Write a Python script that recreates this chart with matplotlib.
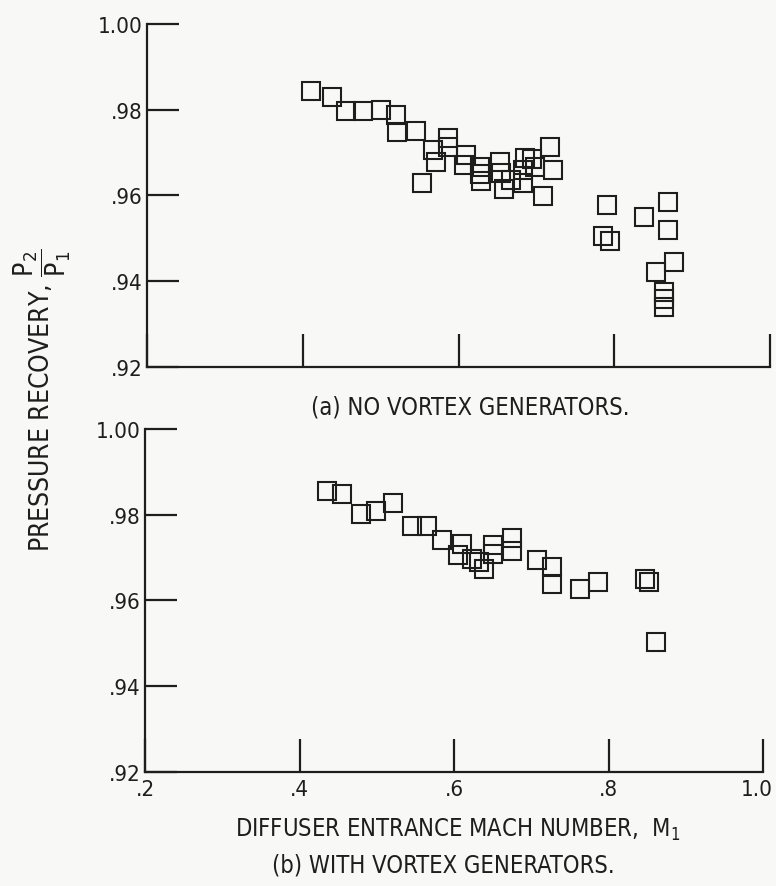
import matplotlib
matplotlib.use("Agg")
import matplotlib.pyplot as plt
from matplotlib.transforms import ScaledTranslation

plt.rcParams['font.family'] = ['DejaVu Sans']
plt.rcParams['font.stretch'] = 'condensed'
plt.rcParams['mathtext.fontset'] = 'dejavusans'

# (a) no vortex generators: Mach number, pressure recovery
mach_a = [0.411, 0.437, 0.456, 0.478, 0.501, 0.520, 0.521, 0.545, 0.553, 0.567,
          0.571, 0.586, 0.586, 0.607, 0.610, 0.627, 0.627, 0.629, 0.653, 0.655,
          0.659, 0.668, 0.683, 0.685, 0.683, 0.695, 0.698, 0.717, 0.721, 0.708,
          0.791, 0.785, 0.794, 0.838, 0.869, 0.869, 0.877, 0.853, 0.864, 0.864,
          0.864]
rec_a = [0.9844, 0.9830, 0.9798, 0.9798, 0.9800, 0.9788, 0.9747, 0.9751, 0.9628, 0.9707,
         0.9679, 0.9733, 0.9712, 0.9672, 0.9695, 0.9667, 0.9649, 0.9633, 0.9679, 0.9653,
         0.9614, 0.9637, 0.9660, 0.9688, 0.9630, 0.9684, 0.9667, 0.9712, 0.9660, 0.9598,
         0.9577, 0.9505, 0.9493, 0.9549, 0.9586, 0.9519, 0.9444, 0.9421, 0.9374, 0.9358,
         0.9340]

# (b) with vortex generators
mach_b = [0.435, 0.455, 0.479, 0.499, 0.521, 0.545, 0.565, 0.584, 0.611, 0.605,
          0.623, 0.633, 0.639, 0.650, 0.650, 0.675, 0.675, 0.707, 0.727, 0.727,
          0.763, 0.786, 0.847, 0.853, 0.862]
rec_b = [0.9856, 0.9849, 0.9802, 0.9809, 0.9828, 0.9774, 0.9774, 0.9741, 0.9732, 0.9706,
         0.9696, 0.9689, 0.9673, 0.9729, 0.9708, 0.9746, 0.9715, 0.9694, 0.9678, 0.9638,
         0.9626, 0.9642, 0.9649, 0.9642, 0.9504]

x_ticks = [0.2, 0.4, 0.6, 0.8, 1.0]
x_labels = ['.2', '.4', '.6', '.8', '1.0']
y_ticks = [0.92, 0.94, 0.96, 0.98, 1.00]
y_labels = ['.92', '.94', '.96', '.98', '1.00']

ink = '#1e1e1e'
W, H = 776, 887
fig = plt.figure(figsize=(W / 100, H / 100), dpi=100)
fig.patch.set_facecolor('#f8f8f6')

ax1 = fig.add_axes([147 / W, 1 - 368 / H, (770 - 147) / W, (368 - 25) / H])
ax2 = fig.add_axes([145 / W, 1 - 773 / H, (763 - 145) / W, (773 - 430) / H])

for ax, mx, rv in [(ax1, mach_a, rec_a), (ax2, mach_b, rec_b)]:
    ax.set_facecolor('none')
    ax.plot(mx, rv, linestyle='none', marker='s', markersize=12.5,
            markerfacecolor='none', markeredgecolor=ink, markeredgewidth=1.5,
            clip_on=False)
    ax.set_xlim(0.2, 1.0)
    ax.set_ylim(0.92, 1.00)
    ax.spines['top'].set_visible(False)
    ax.spines['right'].set_visible(False)
    for s in ('left', 'bottom'):
        ax.spines[s].set_linewidth(1.6)
        ax.spines[s].set_color(ink)
    ax.set_yticks(y_ticks)
    ax.set_yticklabels(y_labels)
    ax.set_xticks(x_ticks)
    ax.tick_params(axis='y', direction='in', length=23, width=1.6, color=ink,
                   labelsize=16, labelcolor=ink, pad=3)
    ax.tick_params(axis='x', direction='in', length=24, width=1.6, color=ink,
                   labelsize=16, labelcolor=ink, pad=5)

ax1.set_xticklabels([])
ax2.set_xticklabels(x_labels)
# keep the last label inside the page
last = ax2.get_xticklabels()[-1]
last.set_transform(last.get_transform() + ScaledTranslation(-6 / 100, 0, fig.dpi_scale_trans))

fig.text(470 / W, 1 - 408 / H, '(a) NO VORTEX GENERATORS.', ha='center', va='center',
         fontsize=17, color=ink)
fig.text(458 / W, 1 - 830 / H, 'DIFFUSER ENTRANCE MACH NUMBER,  M$_1$', ha='center',
         va='center', fontsize=17, color=ink)
fig.text(443 / W, 1 - 866 / H, '(b) WITH VORTEX GENERATORS.', ha='center', va='center',
         fontsize=17, color=ink)
fig.text(42 / W, 1 - 400 / H, r'PRESSURE RECOVERY, $\dfrac{\mathsf{P}_2}{\mathsf{P}_1}$',
         rotation=90, ha='center', va='center', fontsize=19, color=ink)

fig.savefig('out.png', dpi=100, facecolor=fig.get_facecolor())
